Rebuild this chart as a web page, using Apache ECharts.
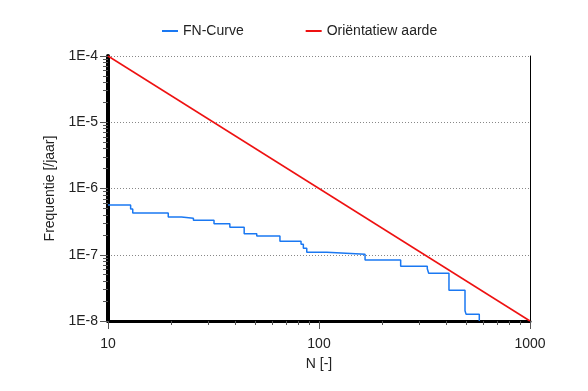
<!DOCTYPE html>
<html>
<head>
<meta charset="utf-8">
<script src="https://cdn.jsdelivr.net/npm/echarts@6/dist/echarts.min.js"></script>
<style>html,body{margin:0;padding:0;background:#fff}#c{width:588px;height:391px}</style>
</head>
<body>
<div id="c"></div>
<script>
const fnN = [10, 12.8, 13.1, 19.3, 22.3, 25.4, 31.8, 37.8, 44.2, 50.7, 65.3, 82.2, 84.3, 87.5, 108.9, 165.3, 243.8, 326, 331, 413, 492, 498, 575];
const fnF = [5.64e-7, 4.9e-7, 4.27e-7, 3.71e-7, 3.55e-7, 3.31e-7, 2.94e-7, 2.6e-7, 2.07e-7, 1.92e-7, 1.6e-7, 1.44e-7, 1.25e-7, 1.09e-7, 1.02e-7, 8.34e-8, 6.72e-8, 6.15e-8, 5.25e-8, 2.91e-8, 1.43e-8, 1.26e-8, 1.0e-8];
const orN = [10, 1000];
const orF = [1e-4, 1e-8];
const xMajorTicks = [10, 100, 1000];
const xMinorTicks = [20, 30, 40, 50, 60, 70, 80, 90, 200, 300, 400, 500, 600, 700, 800, 900];
const yMajorTicks = [1e-8, 1e-7, 1e-6, 1e-5, 1e-4];
const yMinorTicks = [];
[1e-8, 1e-7, 1e-6, 1e-5].forEach(d => { for (let k = 2; k <= 9; k++) yMinorTicks.push(+(d * k).toPrecision(3)); });

const font = 'Liberation Sans, Arial, Helvetica, sans-serif';
const txt = '#222';
const tickCol = '#555';
const chart = echarts.init(document.getElementById('c'));
const fnData = fnN.map((n, i) => [n, fnF[i]]);
const orData = orN.map((n, i) => [n, orF[i]]);
function yFmt(v) { return '1E' + Math.round(Math.log10(v)); }

function auxX(vals, len) {
  return {
    type: 'log', min: 10, max: 1000, logBase: 10, position: 'bottom',
    axisLine: { show: false },
    axisTick: { show: true, inside: false, length: len, lineStyle: { color: tickCol, width: 1 }, customValues: vals },
    axisLabel: { show: false }, splitLine: { show: false }
  };
}
function auxY(vals, len) {
  return {
    type: 'log', min: 1e-8, max: 1e-4, logBase: 10, position: 'left',
    axisLine: { show: false },
    axisTick: { show: true, inside: false, length: len, lineStyle: { color: tickCol, width: 1 }, customValues: vals },
    axisLabel: { show: false }, splitLine: { show: false }
  };
}

chart.setOption({
  animation: false,
  backgroundColor: '#fff',
  legend: {
    top: 19, left: 157, itemGap: 62, itemWidth: 16, itemHeight: 2, icon: 'rect',
    textStyle: { fontFamily: font, fontSize: 14, color: txt },
    data: ['FN-Curve', 'Oriëntatiew aarde']
  },
  grid: { left: 108, right: 58, top: 56, bottom: 70 },
  xAxis: [{
    type: 'log', min: 10, max: 1000, logBase: 10,
    name: 'N [-]', nameLocation: 'middle', nameGap: 36,
    nameTextStyle: { fontFamily: font, fontSize: 14, color: txt },
    axisLine: { show: true, lineStyle: { color: '#000', width: 3 } },
    axisTick: { show: false },
    axisLabel: { fontFamily: font, fontSize: 14, color: txt, margin: 16, formatter: v => String(v) },
    splitLine: { show: false }
  }, auxX(xMajorTicks, 8), auxX(xMinorTicks, 4)],
  yAxis: [{
    type: 'log', min: 1e-8, max: 1e-4, logBase: 10,
    name: 'Frequentie [/jaar]', nameLocation: 'middle', nameGap: 46,
    nameTextStyle: { fontFamily: font, fontSize: 14, color: txt },
    axisLine: { show: true, lineStyle: { color: '#000', width: 4 } },
    axisTick: { show: false },
    axisLabel: { fontFamily: font, fontSize: 14, color: txt, margin: 10, formatter: yFmt },
    splitLine: { show: true, lineStyle: { color: '#888', type: [1, 2], width: 1 } }
  }, auxY(yMajorTicks, 8), auxY(yMinorTicks, 5), {
    type: 'log', min: 1e-8, max: 1e-4, logBase: 10, position: 'right',
    axisLine: { show: true, lineStyle: { color: '#000', width: 1 } },
    axisTick: { show: false }, axisLabel: { show: false }, splitLine: { show: false }
  }],
  series: [{
    name: 'FN-Curve', type: 'line', step: 'end', data: fnData,
    showSymbol: false, symbol: 'none',
    lineStyle: { color: '#1a78f2', width: 1.5 }, itemStyle: { color: '#1a78f2' }, z: 3
  }, {
    name: 'Oriëntatiew aarde', type: 'line', data: orData,
    showSymbol: false, symbol: 'none',
    lineStyle: { color: '#ee1111', width: 1.5 }, itemStyle: { color: '#ee1111' }, z: 4
  }]
});
</script>
</body>
</html>
